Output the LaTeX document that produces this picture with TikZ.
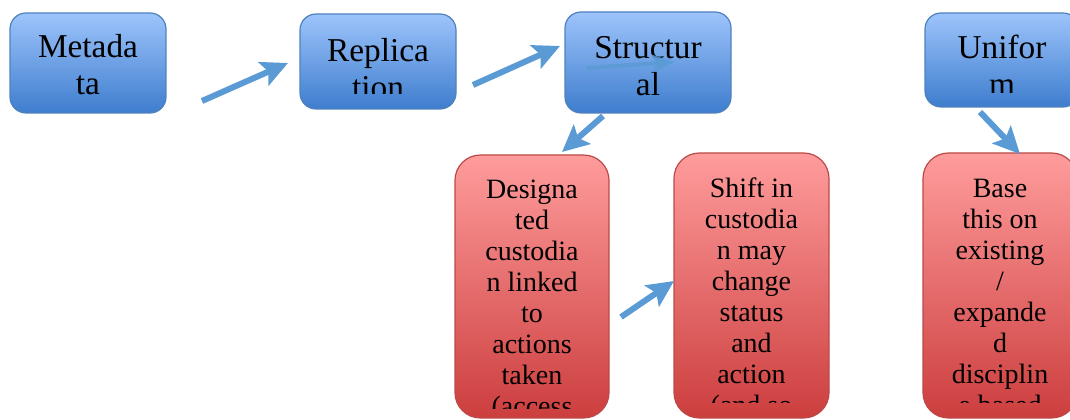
\documentclass[tikz,border=0pt]{standalone}
\usepackage{fontspec}
\setmainfont{Liberation Serif}
\usetikzlibrary{arrows.meta}

\definecolor{topblue}{RGB}{157,196,251}
\definecolor{botblue}{RGB}{62,125,206}
\definecolor{bordblue}{RGB}{79,129,189}
\definecolor{topred}{RGB}{255,156,156}
\definecolor{botred}{RGB}{204,62,62}
\definecolor{bordred}{RGB}{186,74,72}
\definecolor{arrowblue}{RGB}{91,155,213}

\begin{document}
\begin{tikzpicture}[
  x=0.75pt, y=-0.75pt,
  bluebox/.style={rectangle, draw=bordblue, line width=0.9pt, rounded corners=12pt, top color=topblue, bottom color=botblue, inner sep=0pt},
  redbox/.style={rectangle, draw=bordred, line width=0.9pt, rounded corners=19pt, top color=topred, bottom color=botred, inner sep=0pt},
  bluetxt/.style={anchor=base, align=center, inner sep=0pt, font=\fontsize{25}{27.75}\selectfont},
  redtxt/.style={anchor=base, align=center, inner sep=0pt, font=\fontsize{21}{23.25}\selectfont},
  flow/.style={-{Stealth[length=20pt, width=19pt, inset=4pt]}, line width=4.5pt, arrowblue},
  thinflow/.style={-{Stealth[length=17pt, width=13pt, inset=3pt]}, line width=3pt, arrowblue, opacity=0.85}
]
\useasboundingbox (0,0) rectangle (1070,420);
\clip (0,0) rectangle (1070,420);

% top row
\node[bluebox, minimum width=117pt, minimum height=75pt] (meta) at (88,63) {};
\node[bluebox, minimum width=117pt, minimum height=71.25pt] (repl) at (378,61.5) {};
\node[bluebox, minimum width=124.5pt, minimum height=75.75pt] (struct) at (648,62.5) {};
\node[bluebox, minimum width=115.5pt, minimum height=70.5pt] (unif) at (1002,60) {};

% bottom row
\node[redbox, minimum width=115.5pt, minimum height=197.25pt] (desig) at (532,286.5) {};
\node[redbox, minimum width=116.25pt, minimum height=198.75pt] (shift) at (751.5,285.5) {};
\node[redbox, minimum width=115.5pt, minimum height=198.75pt] (base) at (1000,285.5) {};

% texts, cut off at the lower edge of the boxes (placed by their last line)
\begin{scope}
\clip (meta.north west) rectangle ([yshift=11.25pt]meta.south east);
\node[bluetxt] (meta-t) at (88,95) {Metada\\ta};
\end{scope}
\begin{scope}
\clip (repl.north west) rectangle ([yshift=12pt]repl.south east);
\node[bluetxt] (repl-t) at (378,99) {Replica\\tion};
\end{scope}
\begin{scope}
\clip (struct.north west) rectangle ([yshift=11.25pt]struct.south east);
\node[bluetxt] (struct-t) at (648,96) {Structur\\al};
\end{scope}
\begin{scope}
\clip (unif.north west) rectangle ([yshift=11.25pt]unif.south east);
\node[bluetxt] (unif-t) at (1002,96) {Unifor\\m};
\end{scope}
\begin{scope}
\clip (desig.north west) rectangle ([yshift=7.5pt]desig.south east);
\node[redtxt] (desig-t) at (532,415) {Designa\\ted\\custodia\\n linked\\to\\actions\\taken\\(access};
\end{scope}
\begin{scope}
\clip (shift.north west) rectangle ([yshift=12pt]shift.south east);
\node[redtxt] (shift-t) at (751.5,414) {Shift in\\custodia\\n may\\change\\status\\and\\action\\(and so};
\end{scope}
\begin{scope}
\clip (base.north west) rectangle ([yshift=12pt]base.south east);
\node[redtxt] (base-t) at (1000,414) {Base\\this on\\existing\\/\\expande\\d\\disciplin\\e based};
\end{scope}

% arrow ends
\coordinate (meta-out) at (202,101);
\coordinate (repl-in) at (288,63);
\coordinate (repl-out) at (473,85);
\coordinate (struct-in) at (560,46);
\coordinate (struct-out) at (603,116);
\coordinate (desig-in) at (562,152);
\coordinate (desig-out) at (621,317);
\coordinate (shift-in) at (674,281);
\coordinate (unif-out) at (980,112);
\coordinate (base-in) at (1020,154);
\coordinate (stray-a) at (587,68);
\coordinate (stray-b) at (675,62);

\draw[flow] (meta-out) -- (repl-in);
\draw[flow] (repl-out) -- (struct-in);
\draw[flow] (struct-out) -- (desig-in);
\draw[flow] (desig-out) -- (shift-in);
\draw[flow] (unif-out) -- (base-in);
\draw[thinflow] (stray-a) -- (stray-b);

\end{tikzpicture}
\end{document}
